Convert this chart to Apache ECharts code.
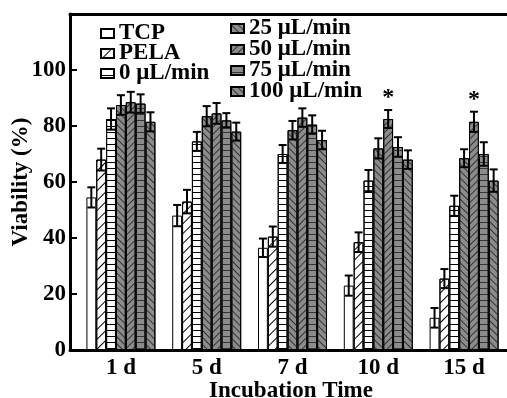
<!DOCTYPE html>
<html lang="en">
<head>
    <meta charset="UTF-8">
    <title>Viability</title>
    <style>
        html, body { margin: 0; padding: 0; background: #fff; }
        #main { width: 507px; height: 398px; }
    </style>
</head>
<body>
    <div id="main"></div>
    <script src="https://cdn.jsdelivr.net/npm/echarts@6/dist/echarts.min.js"></script>
    <script>
        // data
        var categories = ['1 d', '5 d', '7 d', '10 d', '15 d'];
        var seriesNames = ['TCP', 'PELA', '0 \u03bcL/min', '25 \u03bcL/min', '50 \u03bcL/min', '75 \u03bcL/min', '100 \u03bcL/min'];

        var tcp      = [54.5, 48.0, 36.5, 23.0, 11.5];
        var pela     = [68.0, 53.0, 40.5, 38.5, 25.5];
        var flow0    = [82.5, 74.5, 70.0, 60.5, 51.5];
        var flow25   = [87.5, 83.5, 78.5, 72.0, 68.5];
        var flow50   = [88.5, 84.5, 83.0, 82.5, 81.5];
        var flow75   = [88.0, 82.0, 80.5, 72.5, 70.0];
        var flow100  = [81.5, 78.0, 75.0, 68.0, 60.5];

        var tcpErr     = [3.6, 3.8, 3.3, 3.6, 3.5];
        var pelaErr    = [3.9, 4.2, 3.6, 3.5, 3.4];
        var flow0Err   = [3.8, 3.4, 3.2, 3.8, 3.6];
        var flow25Err  = [3.5, 3.6, 3.3, 3.6, 3.2];
        var flow50Err  = [3.7, 3.7, 3.3, 3.2, 3.6];
        var flow75Err  = [3.3, 2.6, 3.3, 3.5, 4.2];
        var flow100Err = [3.4, 3.2, 3.3, 3.3, 4.0];

        // significance marks over the 50 uL/min bars
        var marks50 = ['', '', '', '*', '*'];

        var yTicks = [0, 20, 40, 60, 80, 100];

        var values = [tcp, pela, flow0, flow25, flow50, flow75, flow100];
        var errors = [tcpErr, pelaErr, flow0Err, flow25Err, flow50Err, flow75Err, flow100Err];

        var font = 'Liberation Serif';
        var gray = '#8c8c8c';
        var catGap = '19.6%';

        function hatch(rot, gap, col) {
            return { symbol: 'rect', dashArrayX: [1, 0], dashArrayY: [1, gap], rotation: rot, color: col };
        }
        var fills = ['#fff', '#fff', '#fff', gray, gray, gray, gray];
        var decals = [
            null,
            hatch(-Math.PI / 4, 6, '#000'),
            hatch(0, 5, '#000'),
            hatch(Math.PI / 4, 4, '#333'),
            hatch(-Math.PI / 4, 4, '#333'),
            hatch(0, 5, '#333'),
            hatch(Math.PI / 4, 4, '#333')
        ];

        var myChart = echarts.init(document.getElementById('main'));

        var series = [];
        values.forEach(function (vals, k) {
            var style = { color: fills[k], borderColor: '#000', borderWidth: 1 };
            if (decals[k]) style.decal = decals[k];
            series.push({
                name: seriesNames[k],
                type: 'bar',
                xAxisIndex: 0,
                yAxisIndex: 0,
                barGap: '0%',
                barCategoryGap: catGap,
                itemStyle: style,
                data: vals
            });
        });

        // error bars (and the * marks) drawn on top of the bars
        values.forEach(function (vals, k) {
            series.push({
                type: 'custom',
                xAxisIndex: 0,
                yAxisIndex: 0,
                z: 10,
                silent: true,
                data: vals.map(function (v, i) { return [i, v, errors[k][i]]; }),
                renderItem: function (params, api) {
                    var layout = api.barLayout({ barGap: '0%', barCategoryGap: catGap, count: 7 });
                    var idx = api.value(0);
                    var x = api.coord([idx, 0])[0] + layout[k].offsetCenter;
                    var hi = api.coord([idx, api.value(1) + api.value(2)])[1];
                    var lo = api.coord([idx, api.value(1) - api.value(2)])[1];
                    var cap = 4;
                    var st = { stroke: '#000', lineWidth: 2 };
                    var children = [
                        { type: 'line', shape: { x1: x, y1: hi, x2: x, y2: lo }, style: st },
                        { type: 'line', shape: { x1: x - cap, y1: hi, x2: x + cap, y2: hi }, style: st },
                        { type: 'line', shape: { x1: x - cap, y1: lo, x2: x + cap, y2: lo }, style: st }
                    ];
                    if (k === 4 && marks50[idx]) {
                        children.push({
                            type: 'text',
                            style: {
                                text: marks50[idx], x: x, y: hi - 12,
                                align: 'center', verticalAlign: 'middle',
                                font: 'bold 24px "' + font + '"', fill: '#000'
                            }
                        });
                    }
                    return { type: 'group', children: children };
                }
            });
        });

        var legendText = { fontFamily: font, fontWeight: 'bold', fontSize: 23, color: '#000' };

        var option = {
            animation: false,
            legend: [
                {
                    data: seriesNames.slice(0, 3),
                    orient: 'vertical', left: 100, top: 22, padding: 0,
                    icon: 'rect', itemWidth: 13, itemHeight: 9, itemGap: -3,
                    textStyle: legendText
                },
                {
                    data: seriesNames.slice(3),
                    orient: 'vertical', left: 230, top: 17, padding: 0,
                    icon: 'rect', itemWidth: 13, itemHeight: 9, itemGap: -2,
                    textStyle: legendText
                }
            ],
            grid: [
                { left: 78, right: 0, top: 14, bottom: 48, outerBoundsMode: 'none' },
                { left: 70, right: -5, top: 14, bottom: 48, outerBoundsMode: 'none' }
            ],
            xAxis: [
                {
                    type: 'category', gridIndex: 0, data: categories,
                    axisLine: { show: false }, axisTick: { show: false },
                    axisLabel: { margin: 7, color: '#000', fontFamily: font, fontWeight: 'bold', fontSize: 23 }
                },
                {
                    type: 'value', gridIndex: 1, min: 0, max: 1,
                    axisLine: { lineStyle: { color: '#000', width: 3 } },
                    axisTick: { show: false }, axisLabel: { show: false }, splitLine: { show: false },
                    name: 'Incubation Time', nameLocation: 'middle', nameGap: 30, nameMoveOverlap: false,
                    nameTextStyle: { color: '#000', fontFamily: font, fontWeight: 'bold', fontSize: 23 }
                },
                {
                    type: 'value', gridIndex: 1, position: 'top', min: 0, max: 1,
                    axisLine: { lineStyle: { color: '#000', width: 3 } },
                    axisTick: { show: false }, axisLabel: { show: false }, splitLine: { show: false }
                }
            ],
            yAxis: [
                { type: 'value', gridIndex: 0, min: 0, max: 120, show: false, splitLine: { show: false } },
                {
                    type: 'value', gridIndex: 1, min: 0, max: 120, interval: 20,
                    axisLine: { show: true, lineStyle: { color: '#000', width: 3 } },
                    axisTick: { inside: true, length: 7, lineStyle: { color: '#000', width: 2 } },
                    axisLabel: {
                        margin: 4, color: '#000', fontFamily: font, fontWeight: 'bold', fontSize: 23,
                        formatter: function (v) { return yTicks.indexOf(v) >= 0 ? String(v) : ''; }
                    },
                    splitLine: { show: false },
                    name: 'Viability (%)', nameLocation: 'middle', nameGap: 37, nameRotate: 90,
                    nameMoveOverlap: false,
                    nameTextStyle: { color: '#000', fontFamily: font, fontWeight: 'bold', fontSize: 23 }
                }
            ],
            series: series
        };

        myChart.setOption(option);
    </script>
</body>
</html>
